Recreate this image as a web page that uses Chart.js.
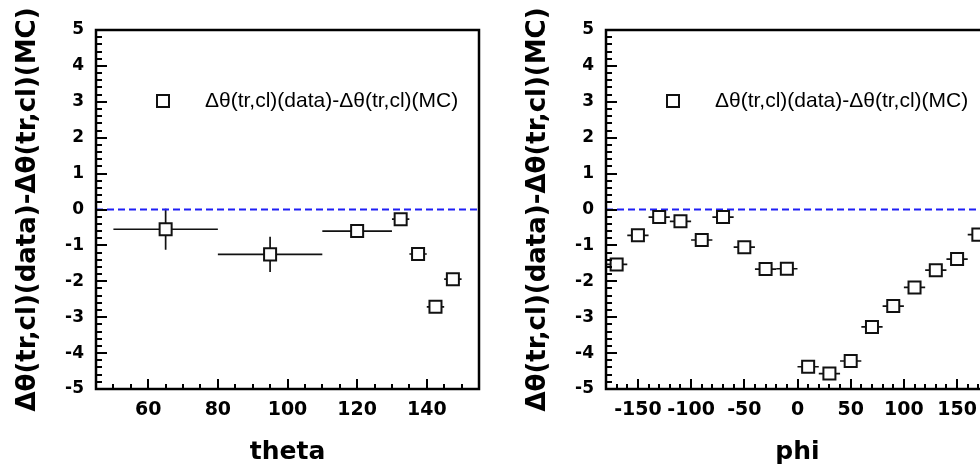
<!DOCTYPE html>
<html>
<head>
<meta charset="utf-8">
<script src="https://cdn.jsdelivr.net/npm/chart.js@4/dist/chart.umd.min.js"></script>
<style>
  html, body { margin: 0; padding: 0; background: #fff; overflow: hidden; }
  .panel { position: absolute; top: 0; width: 510px; height: 470px; }
</style>
</head>
<body>
<div class="panel" style="left:0"><canvas id="thetaChart"></canvas></div>
<div class="panel" style="left:510px"><canvas id="phiChart"></canvas></div>
<script>
// theta panel
const thetaX = [65, 95, 120, 132.5, 137.5, 142.5, 147.5];
const thetaY = [-0.55, -1.25, -0.60, -0.27, -1.24, -2.71, -1.94];
const thetaXErr = [15, 15, 10, 2.5, 2.5, 2.5, 2.5];
const thetaYErr = [0.57, 0.49, 0.06, 0.06, 0.06, 0.06, 0.06];
const thetaTicks = [60, 80, 100, 120, 140];

// phi panel
const phiX = [-170, -150, -130, -110, -90, -70, -50, -30, -10, 10, 30, 50, 70, 90, 110, 130, 150, 170];
const phiY = [-1.53, -0.72, -0.21, -0.33, -0.85, -0.21, -1.05, -1.66, -1.65, -4.38, -4.57, -4.22, -3.27, -2.69, -2.17, -1.69, -1.38, -0.70];
const phiXErr = [10, 10, 10, 10, 10, 10, 10, 10, 10, 10, 10, 10, 10, 10, 10, 10, 10, 10];
const phiYErr = [0.06, 0.06, 0.06, 0.06, 0.06, 0.06, 0.06, 0.06, 0.06, 0.06, 0.06, 0.06, 0.06, 0.06, 0.06, 0.06, 0.06, 0.06];
const phiTicks = [-150, -100, -50, 0, 50, 100, 150];

const yTicks = [-5, -4, -3, -2, -1, 0, 1, 2, 3, 4, 5];
const seriesLabel = 'Δθ(tr,cl)(data)-Δθ(tr,cl)(MC)';
const yTitle = 'Δθ(tr,cl)(data)-Δθ(tr,cl)(MC)';

const boldFont = 'DejaVu Sans';

// error bars under the markers
const errorBars = {
  id: 'errorBars',
  beforeDatasetsDraw(chart, args, opts) {
    const ctx = chart.ctx, xs = chart.scales.x, ys = chart.scales.y;
    ctx.save();
    ctx.strokeStyle = '#111';
    ctx.lineWidth = 1.7;
    for (let i = 0; i < opts.x.length; i++) {
      const px = xs.getPixelForValue(opts.x[i]);
      const py = ys.getPixelForValue(opts.y[i]);
      ctx.beginPath();
      ctx.moveTo(xs.getPixelForValue(opts.x[i] - opts.xe[i]), py);
      ctx.lineTo(xs.getPixelForValue(opts.x[i] + opts.xe[i]), py);
      ctx.moveTo(px, ys.getPixelForValue(opts.y[i] - opts.ye[i]));
      ctx.lineTo(px, ys.getPixelForValue(opts.y[i] + opts.ye[i]));
      ctx.stroke();
    }
    ctx.restore();
  }
};

// frame, inward ticks and legend
const frame = {
  id: 'frame',
  afterDraw(chart, args, opts) {
    const ctx = chart.ctx, a = chart.chartArea;
    const xs = chart.scales.x, ys = chart.scales.y;
    ctx.save();
    ctx.strokeStyle = '#000';
    ctx.lineWidth = 2;
    ctx.beginPath();
    // y ticks
    for (let k = 0; k <= 50; k++) {
      const v = -5 + k * 0.2;
      const py = Math.round(ys.getPixelForValue(v));
      const len = (k % 5 === 0) ? 11 : 6;
      ctx.moveTo(a.left, py);
      ctx.lineTo(a.left + len, py);
    }
    // x ticks
    const n = Math.round((xs.max - xs.min) / opts.minor);
    for (let k = 0; k <= n; k++) {
      const v = xs.min + k * opts.minor;
      if (v < opts.first) continue;
      const px = Math.round(xs.getPixelForValue(v));
      const len = (Math.abs(v % opts.major) < 1e-6) ? 10 : 5;
      ctx.moveTo(px, a.bottom);
      ctx.lineTo(px, a.bottom - len);
    }
    ctx.stroke();
    ctx.lineWidth = 2.5;
    ctx.strokeRect(a.left, a.top, a.right - a.left, a.bottom - a.top);

    // legend
    const mx = a.left + 67, my = a.top + 71;
    ctx.lineWidth = 2;
    ctx.strokeStyle = '#111';
    ctx.fillStyle = '#fff';
    ctx.fillRect(mx - 6, my - 6, 12, 12);
    ctx.strokeRect(mx - 6, my - 6, 12, 12);
    ctx.fillStyle = '#000';
    ctx.font = '21px "Liberation Sans"';
    ctx.textBaseline = 'middle';
    ctx.textAlign = 'left';
    ctx.fillText(seriesLabel, a.left + 109, my);
    ctx.restore();
  }
};

function makeChart(id, xs, ysv, xe, ye, xMin, xMax, xTicks, minor, major, first, xTitle) {
  const pts = xs.map((x, i) => ({x: x, y: ysv[i]}));
  return new Chart(document.getElementById(id), {
    type: 'scatter',
    data: {
      datasets: [
        {
          label: seriesLabel,
          data: pts,
          pointStyle: 'rect',
          pointRadius: 8.5,
          pointHoverRadius: 8.5,
          borderWidth: 2,
          borderColor: '#111',
          backgroundColor: '#fff',
          order: 0
        },
        {
          label: 'zero',
          type: 'line',
          data: [{x: xMin, y: 0}, {x: xMax, y: 0}],
          borderColor: '#1f1ff5',
          borderWidth: 1.8,
          borderDash: [7, 4],
          pointRadius: 0,
          fill: false,
          order: 1
        }
      ]
    },
    options: {
      responsive: true,
      maintainAspectRatio: false,
      animation: false,
      layout: { padding: { top: 30, right: 31, left: 0, bottom: 0 } },
      plugins: {
        legend: { display: false },
        tooltip: { enabled: false },
        errorBars: { x: xs, y: ysv, xe: xe, ye: ye },
        frame: { minor: minor, major: major, first: first }
      },
      scales: {
        x: {
          type: 'linear',
          min: xMin,
          max: xMax,
          grid: { display: false, drawTicks: false, tickLength: 0 },
          border: { display: false },
          afterBuildTicks: s => { s.ticks = xTicks.map(v => ({value: v})); },
          afterFit: s => { s.height = 81; },
          ticks: {
            color: '#000',
            padding: 10,
            maxRotation: 0,
            font: { family: boldFont, size: 19, weight: 'bold' }
          },
          title: {
            display: true,
            text: xTitle,
            color: '#000',
            font: { family: boldFont, size: 25, weight: 'bold' },
            padding: { top: 0, bottom: 3 }
          }
        },
        y: {
          type: 'linear',
          min: -5,
          max: 5,
          grid: { display: false, drawTicks: false, tickLength: 0 },
          border: { display: false },
          afterBuildTicks: s => { s.ticks = yTicks.map(v => ({value: v})); },
          afterFit: s => { s.width = 96; },
          ticks: {
            color: '#000',
            padding: 12,
            font: { family: boldFont, size: 17, weight: 'bold' }
          },
          title: {
            display: true,
            text: yTitle,
            color: '#000',
            font: { family: boldFont, size: 26, weight: 'bold' },
            padding: { top: 13, bottom: 0 }
          }
        }
      }
    },
    plugins: [errorBars, frame]
  });
}

makeChart('thetaChart', thetaX, thetaY, thetaXErr, thetaYErr, 45, 155, thetaTicks, 5, 20, 50, 'theta');
makeChart('phiChart', phiX, phiY, phiXErr, phiYErr, -180, 180, phiTicks, 10, 50, -180, 'phi');
</script>
</body>
</html>
